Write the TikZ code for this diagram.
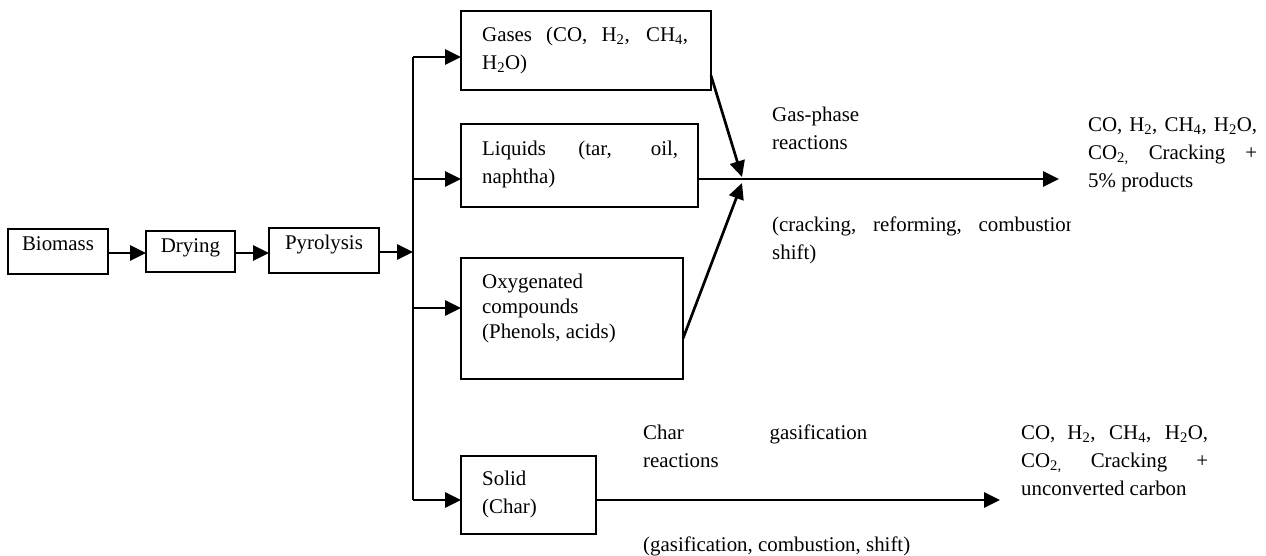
\documentclass[tikz,border=0pt]{standalone}
\usepackage{fontspec}
\setmainfont{Liberation Serif}
\usetikzlibrary{arrows.meta}
\newcommand{\tsb}[1]{\textsubscript{#1}}
\newcommand{\jl}[2]{\makebox[#1][s]{#2}}
\tikzset{
  box/.style={draw, line width=1.9pt, rectangle, inner sep=0pt, outer sep=0pt, anchor=north west},
  lbl/.style={inner sep=0pt, anchor=base west, font=\fontsize{20.9}{28}\selectfont},
  clbl/.style={inner sep=0pt, anchor=base, font=\fontsize{20.9}{28}\selectfont},
  flow/.style={line width=2.7pt, -{Triangle[length=16pt,width=15pt]}},
  busline/.style={line width=2.7pt},
}
\begin{document}
\begin{tikzpicture}[x=1pt,y=-1pt]
\useasboundingbox (0,0) rectangle (1266,555);

% boxes
\node[box, minimum width=100pt, minimum height=45pt] (bio) at (8,229) {};
\node[box, minimum width=89pt, minimum height=41pt] (dry) at (146,231) {};
\node[box, minimum width=110pt, minimum height=45pt] (pyro) at (269,228) {};
\node[box, minimum width=250pt, minimum height=79pt] (gas) at (461,11) {};
\node[box, minimum width=237pt, minimum height=83pt] (liq) at (461,124) {};
\node[box, minimum width=222pt, minimum height=121pt] (oxy) at (461,258) {};
\node[box, minimum width=135pt, minimum height=78pt] (sol) at (461,456) {};

% box texts
\node[clbl] (tbio) at (58,250) {Biomass};
\node[clbl] (tdry) at (190.5,252) {Drying};
\node[clbl] (tpyro) at (324,249) {Pyrolysis};
\node[lbl] (tgas) at (482,41) {\parbox[t]{220pt}{\jl{206pt}{Gases (CO, H\tsb{2}, CH\tsb{4},}\\H\tsb{2}O)}};
\node[lbl] (tliq) at (482,155) {\parbox[t]{220pt}{\jl{196pt}{Liquids (tar, oil,}\\naphtha)}};
\node[lbl] (toxy) at (482,288) {\parbox[t]{220pt}{\fontsize{20.9}{25}\selectfont Oxygenated\\compounds\\(Phenols, acids)}};
\node[lbl] (tsol) at (482,485) {\parbox[t]{120pt}{Solid\\(Char)}};

% free labels
\node[lbl] (gpr) at (772,121) {\parbox[t]{150pt}{Gas-phase\\reactions}};
\begin{scope}
\clip (760,195) rectangle (1070,275);
\node[lbl] (crk) at (772,231) {\parbox[t]{320pt}{\jl{304pt}{(cracking, reforming, combustion}\\shift)}};
\end{scope}
\node[lbl] (prod1) at (1088,131) {\parbox[t]{200pt}{\jl{169pt}{CO, H\tsb{2}, CH\tsb{4}, H\tsb{2}O,}\\\jl{169pt}{CO\tsb{2,} Cracking +}\\5\% products}};
\node[lbl] (cgr) at (643,439) {\parbox[t]{240pt}{\jl{224pt}{Char gasification}\\reactions}};
\node[lbl] (gcs) at (643,551) {(gasification, combustion, shift)};
\node[lbl] (prod2) at (1021,439) {\parbox[t]{200pt}{\jl{187pt}{CO, H\tsb{2}, CH\tsb{4}, H\tsb{2}O,}\\\jl{187pt}{CO\tsb{2,} Cracking +}\\unconverted carbon}};

% bus coordinates
\coordinate (b1) at (413,57);
\coordinate (b2) at (413,179);
\coordinate (b3) at (413,308);
\coordinate (b4) at (413,500);
\coordinate (mix) at (742,179);
\coordinate (out1) at (1059,179);
\coordinate (out2) at (1000,500);

% connectors
\draw[flow] (bio.east |- 0,253) -- (dry.west |- 0,253);
\draw[flow] (dry.east |- 0,253) -- (pyro.west |- 0,253);
\draw[flow] (pyro.east |- 0,252) -- (b1 |- 0,252);
\draw[busline] (b1) -- (b4);
\draw[flow] (b1) -- (b1 -| gas.west);
\draw[flow] (b2) -- (b2 -| liq.west);
\draw[flow] (b3) -- (b3 -| oxy.west);
\draw[flow] (b4) -- (b4 -| sol.west);
\draw[flow] ([yshift=-25pt]gas.east) -- ([yshift=2pt]mix);
\draw[flow] ([yshift=-20pt]oxy.east) -- ([yshift=-4pt]mix);
\draw[flow] (b2 -| liq.east) -- (out1);
\draw[flow] (b4 -| sol.east) -- (out2);
\end{tikzpicture}
\end{document}
